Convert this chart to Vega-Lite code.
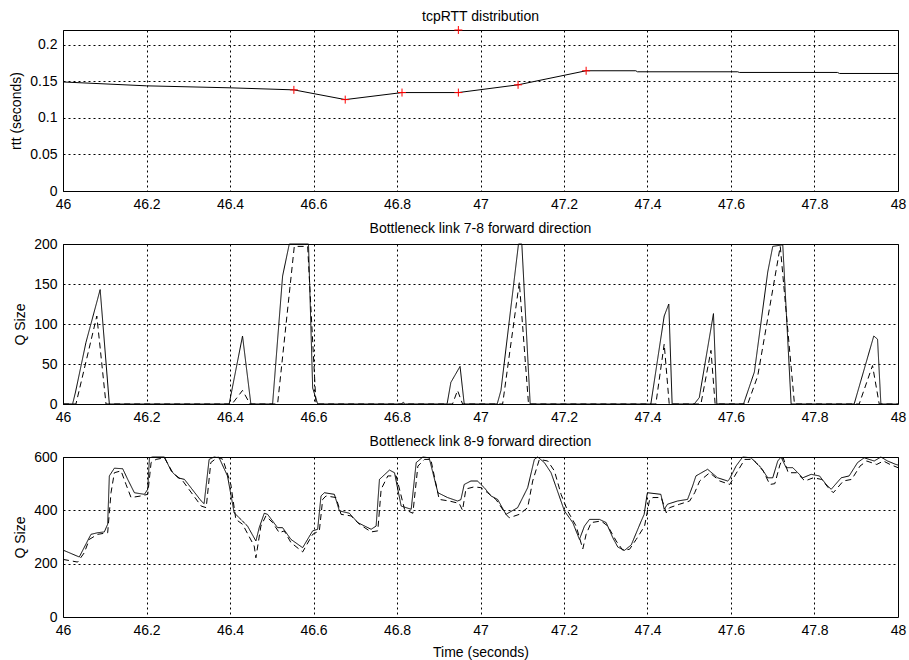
{
  "$schema": "https://vega.github.io/schema/vega-lite/v6.json",
  "padding": {"left": 9, "top": 9, "right": 5, "bottom": 3},
  "background": "white",
  "bounds": "flush",
  "datasets": {
    "rtt_line": [
      {"t": 46.0, "rtt": 0.149}, {"t": 46.2, "rtt": 0.1437}, {"t": 46.4, "rtt": 0.141}, {"t": 46.553, "rtt": 0.1382},
      {"t": 46.676, "rtt": 0.1249}, {"t": 46.812, "rtt": 0.1345}, {"t": 46.947, "rtt": 0.1345}, {"t": 47.09, "rtt": 0.1451},
      {"t": 47.253, "rtt": 0.1643}, {"t": 47.372, "rtt": 0.1643}, {"t": 47.376, "rtt": 0.1629}, {"t": 47.616, "rtt": 0.1629},
      {"t": 47.62, "rtt": 0.162}, {"t": 47.855, "rtt": 0.162}, {"t": 47.86, "rtt": 0.1606}, {"t": 48.0, "rtt": 0.1606}
    ],
    "rtt_marks": [
      {"t": 46.553, "rtt": 0.1382}, {"t": 46.676, "rtt": 0.1249}, {"t": 46.812, "rtt": 0.1345}, {"t": 46.947, "rtt": 0.1345},
      {"t": 46.947, "rtt": 0.22}, {"t": 47.09, "rtt": 0.1451}, {"t": 47.253, "rtt": 0.1643}
    ],
    "q78": [
      {"s": "solid", "t": 46.0, "q": 0}, {"s": "solid", "t": 46.023, "q": 0}, {"s": "solid", "t": 46.03, "q": 15}, {"s": "solid", "t": 46.055, "q": 77},
      {"s": "solid", "t": 46.089, "q": 143}, {"s": "solid", "t": 46.111, "q": 0}, {"s": "solid", "t": 46.398, "q": 0}, {"s": "solid", "t": 46.43, "q": 85},
      {"s": "solid", "t": 46.45, "q": 0}, {"s": "solid", "t": 46.502, "q": 0}, {"s": "solid", "t": 46.526, "q": 160}, {"s": "solid", "t": 46.542, "q": 200},
      {"s": "solid", "t": 46.588, "q": 200}, {"s": "solid", "t": 46.598, "q": 20}, {"s": "solid", "t": 46.61, "q": 0}, {"s": "solid", "t": 46.81, "q": 0},
      {"s": "solid", "t": 46.815, "q": 2}, {"s": "solid", "t": 46.82, "q": 0}, {"s": "solid", "t": 46.92, "q": 0}, {"s": "solid", "t": 46.929, "q": 27},
      {"s": "solid", "t": 46.951, "q": 47}, {"s": "solid", "t": 46.961, "q": 0}, {"s": "solid", "t": 47.04, "q": 0}, {"s": "solid", "t": 47.049, "q": 17},
      {"s": "solid", "t": 47.091, "q": 200}, {"s": "solid", "t": 47.099, "q": 200}, {"s": "solid", "t": 47.119, "q": 0}, {"s": "solid", "t": 47.408, "q": 0},
      {"s": "solid", "t": 47.44, "q": 110}, {"s": "solid", "t": 47.451, "q": 125}, {"s": "solid", "t": 47.459, "q": 0}, {"s": "solid", "t": 47.512, "q": 0},
      {"s": "solid", "t": 47.524, "q": 8}, {"s": "solid", "t": 47.558, "q": 113}, {"s": "solid", "t": 47.566, "q": 0}, {"s": "solid", "t": 47.63, "q": 0},
      {"s": "solid", "t": 47.656, "q": 40}, {"s": "solid", "t": 47.688, "q": 165}, {"s": "solid", "t": 47.7, "q": 197}, {"s": "solid", "t": 47.724, "q": 199},
      {"s": "solid", "t": 47.744, "q": 0}, {"s": "solid", "t": 47.895, "q": 0}, {"s": "solid", "t": 47.942, "q": 85}, {"s": "solid", "t": 47.951, "q": 81},
      {"s": "solid", "t": 47.959, "q": 0}, {"s": "solid", "t": 48.0, "q": 0},
      {"s": "dashed", "t": 46.0, "q": 0}, {"s": "dashed", "t": 46.031, "q": 0}, {"s": "dashed", "t": 46.081, "q": 110}, {"s": "dashed", "t": 46.103, "q": 0},
      {"s": "dashed", "t": 46.405, "q": 0}, {"s": "dashed", "t": 46.43, "q": 17}, {"s": "dashed", "t": 46.448, "q": 0}, {"s": "dashed", "t": 46.514, "q": 0},
      {"s": "dashed", "t": 46.554, "q": 197}, {"s": "dashed", "t": 46.586, "q": 197}, {"s": "dashed", "t": 46.606, "q": 0}, {"s": "dashed", "t": 46.933, "q": 0},
      {"s": "dashed", "t": 46.945, "q": 17}, {"s": "dashed", "t": 46.957, "q": 0}, {"s": "dashed", "t": 47.053, "q": 0}, {"s": "dashed", "t": 47.093, "q": 152},
      {"s": "dashed", "t": 47.115, "q": 0}, {"s": "dashed", "t": 47.42, "q": 0}, {"s": "dashed", "t": 47.44, "q": 75}, {"s": "dashed", "t": 47.452, "q": 0},
      {"s": "dashed", "t": 47.528, "q": 0}, {"s": "dashed", "t": 47.552, "q": 67}, {"s": "dashed", "t": 47.562, "q": 0}, {"s": "dashed", "t": 47.64, "q": 0},
      {"s": "dashed", "t": 47.664, "q": 35}, {"s": "dashed", "t": 47.718, "q": 197}, {"s": "dashed", "t": 47.752, "q": 0}, {"s": "dashed", "t": 47.907, "q": 0},
      {"s": "dashed", "t": 47.939, "q": 48}, {"s": "dashed", "t": 47.955, "q": 0}, {"s": "dashed", "t": 48.0, "q": 0}
    ],
    "q89": [
      {"s": "solid", "t": 46.0, "q": 251}, {"s": "solid", "t": 46.039, "q": 225}, {"s": "solid", "t": 46.067, "q": 310}, {"s": "solid", "t": 46.083, "q": 316},
      {"s": "solid", "t": 46.099, "q": 319}, {"s": "solid", "t": 46.107, "q": 348}, {"s": "solid", "t": 46.111, "q": 529}, {"s": "solid", "t": 46.123, "q": 558},
      {"s": "solid", "t": 46.143, "q": 556}, {"s": "solid", "t": 46.155, "q": 516}, {"s": "solid", "t": 46.171, "q": 466}, {"s": "solid", "t": 46.195, "q": 460},
      {"s": "solid", "t": 46.203, "q": 479}, {"s": "solid", "t": 46.207, "q": 597}, {"s": "solid", "t": 46.215, "q": 600}, {"s": "solid", "t": 46.243, "q": 600},
      {"s": "solid", "t": 46.259, "q": 548}, {"s": "solid", "t": 46.275, "q": 522}, {"s": "solid", "t": 46.291, "q": 516}, {"s": "solid", "t": 46.331, "q": 435},
      {"s": "solid", "t": 46.338, "q": 425}, {"s": "solid", "t": 46.35, "q": 591}, {"s": "solid", "t": 46.362, "q": 600}, {"s": "solid", "t": 46.374, "q": 597},
      {"s": "solid", "t": 46.394, "q": 529}, {"s": "solid", "t": 46.41, "q": 391}, {"s": "solid", "t": 46.422, "q": 372}, {"s": "solid", "t": 46.442, "q": 341},
      {"s": "solid", "t": 46.462, "q": 285}, {"s": "solid", "t": 46.47, "q": 335}, {"s": "solid", "t": 46.482, "q": 389}, {"s": "solid", "t": 46.49, "q": 385},
      {"s": "solid", "t": 46.514, "q": 335}, {"s": "solid", "t": 46.526, "q": 335}, {"s": "solid", "t": 46.546, "q": 291}, {"s": "solid", "t": 46.574, "q": 260},
      {"s": "solid", "t": 46.598, "q": 323}, {"s": "solid", "t": 46.61, "q": 329}, {"s": "solid", "t": 46.618, "q": 454}, {"s": "solid", "t": 46.626, "q": 466},
      {"s": "solid", "t": 46.65, "q": 460}, {"s": "solid", "t": 46.662, "q": 398}, {"s": "solid", "t": 46.686, "q": 389}, {"s": "solid", "t": 46.706, "q": 354},
      {"s": "solid", "t": 46.738, "q": 329}, {"s": "solid", "t": 46.75, "q": 341}, {"s": "solid", "t": 46.758, "q": 516}, {"s": "solid", "t": 46.782, "q": 551},
      {"s": "solid", "t": 46.794, "q": 541}, {"s": "solid", "t": 46.81, "q": 416}, {"s": "solid", "t": 46.834, "q": 404}, {"s": "solid", "t": 46.846, "q": 579},
      {"s": "solid", "t": 46.862, "q": 600}, {"s": "solid", "t": 46.877, "q": 597}, {"s": "solid", "t": 46.898, "q": 466}, {"s": "solid", "t": 46.921, "q": 448},
      {"s": "solid", "t": 46.945, "q": 435}, {"s": "solid", "t": 46.953, "q": 440}, {"s": "solid", "t": 46.961, "q": 497}, {"s": "solid", "t": 46.977, "q": 510},
      {"s": "solid", "t": 46.993, "q": 510}, {"s": "solid", "t": 47.001, "q": 497}, {"s": "solid", "t": 47.009, "q": 485}, {"s": "solid", "t": 47.025, "q": 454},
      {"s": "solid", "t": 47.041, "q": 441}, {"s": "solid", "t": 47.061, "q": 385}, {"s": "solid", "t": 47.089, "q": 410}, {"s": "solid", "t": 47.113, "q": 485},
      {"s": "solid", "t": 47.129, "q": 591}, {"s": "solid", "t": 47.137, "q": 600}, {"s": "solid", "t": 47.153, "q": 579}, {"s": "solid", "t": 47.169, "q": 541},
      {"s": "solid", "t": 47.201, "q": 398}, {"s": "solid", "t": 47.221, "q": 354}, {"s": "solid", "t": 47.237, "q": 291}, {"s": "solid", "t": 47.249, "q": 341},
      {"s": "solid", "t": 47.261, "q": 366}, {"s": "solid", "t": 47.285, "q": 366}, {"s": "solid", "t": 47.301, "q": 354}, {"s": "solid", "t": 47.317, "q": 297},
      {"s": "solid", "t": 47.329, "q": 262}, {"s": "solid", "t": 47.345, "q": 250}, {"s": "solid", "t": 47.361, "q": 270}, {"s": "solid", "t": 47.385, "q": 360},
      {"s": "solid", "t": 47.392, "q": 385}, {"s": "solid", "t": 47.399, "q": 460}, {"s": "solid", "t": 47.4, "q": 466}, {"s": "solid", "t": 47.432, "q": 460},
      {"s": "solid", "t": 47.44, "q": 404}, {"s": "solid", "t": 47.448, "q": 423}, {"s": "solid", "t": 47.472, "q": 435}, {"s": "solid", "t": 47.496, "q": 441},
      {"s": "solid", "t": 47.508, "q": 491}, {"s": "solid", "t": 47.516, "q": 529}, {"s": "solid", "t": 47.544, "q": 554}, {"s": "solid", "t": 47.568, "q": 522},
      {"s": "solid", "t": 47.592, "q": 510}, {"s": "solid", "t": 47.596, "q": 516}, {"s": "solid", "t": 47.612, "q": 566}, {"s": "solid", "t": 47.628, "q": 600},
      {"s": "solid", "t": 47.648, "q": 597}, {"s": "solid", "t": 47.672, "q": 560}, {"s": "solid", "t": 47.688, "q": 522}, {"s": "solid", "t": 47.7, "q": 522},
      {"s": "solid", "t": 47.712, "q": 585}, {"s": "solid", "t": 47.72, "q": 600}, {"s": "solid", "t": 47.732, "q": 560}, {"s": "solid", "t": 47.748, "q": 560},
      {"s": "solid", "t": 47.76, "q": 541}, {"s": "solid", "t": 47.772, "q": 522}, {"s": "solid", "t": 47.792, "q": 535}, {"s": "solid", "t": 47.812, "q": 529},
      {"s": "solid", "t": 47.828, "q": 497}, {"s": "solid", "t": 47.84, "q": 479}, {"s": "solid", "t": 47.864, "q": 522}, {"s": "solid", "t": 47.883, "q": 529},
      {"s": "solid", "t": 47.903, "q": 579}, {"s": "solid", "t": 47.919, "q": 597}, {"s": "solid", "t": 47.943, "q": 585}, {"s": "solid", "t": 47.959, "q": 600},
      {"s": "solid", "t": 47.975, "q": 585}, {"s": "solid", "t": 47.995, "q": 572}, {"s": "solid", "t": 48.0, "q": 570},
      {"s": "dashed", "t": 46.0, "q": 216}, {"s": "dashed", "t": 46.035, "q": 206}, {"s": "dashed", "t": 46.051, "q": 241}, {"s": "dashed", "t": 46.063, "q": 291},
      {"s": "dashed", "t": 46.083, "q": 310}, {"s": "dashed", "t": 46.107, "q": 316}, {"s": "dashed", "t": 46.115, "q": 466}, {"s": "dashed", "t": 46.123, "q": 541},
      {"s": "dashed", "t": 46.139, "q": 548}, {"s": "dashed", "t": 46.151, "q": 497}, {"s": "dashed", "t": 46.163, "q": 448}, {"s": "dashed", "t": 46.187, "q": 454},
      {"s": "dashed", "t": 46.203, "q": 460}, {"s": "dashed", "t": 46.211, "q": 579}, {"s": "dashed", "t": 46.223, "q": 591}, {"s": "dashed", "t": 46.243, "q": 597},
      {"s": "dashed", "t": 46.263, "q": 541}, {"s": "dashed", "t": 46.287, "q": 510}, {"s": "dashed", "t": 46.331, "q": 416}, {"s": "dashed", "t": 46.343, "q": 410},
      {"s": "dashed", "t": 46.354, "q": 579}, {"s": "dashed", "t": 46.371, "q": 600}, {"s": "dashed", "t": 46.383, "q": 591}, {"s": "dashed", "t": 46.402, "q": 497},
      {"s": "dashed", "t": 46.414, "q": 366}, {"s": "dashed", "t": 46.43, "q": 348}, {"s": "dashed", "t": 46.458, "q": 266}, {"s": "dashed", "t": 46.462, "q": 222},
      {"s": "dashed", "t": 46.474, "q": 341}, {"s": "dashed", "t": 46.486, "q": 379}, {"s": "dashed", "t": 46.502, "q": 354}, {"s": "dashed", "t": 46.518, "q": 316},
      {"s": "dashed", "t": 46.53, "q": 323}, {"s": "dashed", "t": 46.546, "q": 279}, {"s": "dashed", "t": 46.574, "q": 244}, {"s": "dashed", "t": 46.598, "q": 310},
      {"s": "dashed", "t": 46.614, "q": 323}, {"s": "dashed", "t": 46.622, "q": 441}, {"s": "dashed", "t": 46.63, "q": 454}, {"s": "dashed", "t": 46.654, "q": 448},
      {"s": "dashed", "t": 46.666, "q": 385}, {"s": "dashed", "t": 46.69, "q": 379}, {"s": "dashed", "t": 46.71, "q": 348}, {"s": "dashed", "t": 46.738, "q": 319},
      {"s": "dashed", "t": 46.754, "q": 323}, {"s": "dashed", "t": 46.762, "q": 479}, {"s": "dashed", "t": 46.778, "q": 529}, {"s": "dashed", "t": 46.798, "q": 529},
      {"s": "dashed", "t": 46.818, "q": 404}, {"s": "dashed", "t": 46.838, "q": 389}, {"s": "dashed", "t": 46.85, "q": 566}, {"s": "dashed", "t": 46.866, "q": 591},
      {"s": "dashed", "t": 46.881, "q": 591}, {"s": "dashed", "t": 46.901, "q": 441}, {"s": "dashed", "t": 46.925, "q": 435}, {"s": "dashed", "t": 46.949, "q": 426},
      {"s": "dashed", "t": 46.957, "q": 400}, {"s": "dashed", "t": 46.965, "q": 480}, {"s": "dashed", "t": 46.985, "q": 488}, {"s": "dashed", "t": 47.001, "q": 485},
      {"s": "dashed", "t": 47.017, "q": 466}, {"s": "dashed", "t": 47.037, "q": 441}, {"s": "dashed", "t": 47.061, "q": 385}, {"s": "dashed", "t": 47.069, "q": 372},
      {"s": "dashed", "t": 47.093, "q": 385}, {"s": "dashed", "t": 47.113, "q": 410}, {"s": "dashed", "t": 47.125, "q": 510}, {"s": "dashed", "t": 47.141, "q": 591},
      {"s": "dashed", "t": 47.161, "q": 585}, {"s": "dashed", "t": 47.177, "q": 548}, {"s": "dashed", "t": 47.193, "q": 460}, {"s": "dashed", "t": 47.209, "q": 397},
      {"s": "dashed", "t": 47.229, "q": 341}, {"s": "dashed", "t": 47.245, "q": 255}, {"s": "dashed", "t": 47.253, "q": 310}, {"s": "dashed", "t": 47.265, "q": 354},
      {"s": "dashed", "t": 47.289, "q": 360}, {"s": "dashed", "t": 47.305, "q": 341}, {"s": "dashed", "t": 47.325, "q": 285}, {"s": "dashed", "t": 47.341, "q": 250},
      {"s": "dashed", "t": 47.357, "q": 254}, {"s": "dashed", "t": 47.373, "q": 291}, {"s": "dashed", "t": 47.393, "q": 341}, {"s": "dashed", "t": 47.405, "q": 440},
      {"s": "dashed", "t": 47.413, "q": 448}, {"s": "dashed", "t": 47.433, "q": 448}, {"s": "dashed", "t": 47.445, "q": 391}, {"s": "dashed", "t": 47.453, "q": 410},
      {"s": "dashed", "t": 47.477, "q": 423}, {"s": "dashed", "t": 47.501, "q": 435}, {"s": "dashed", "t": 47.513, "q": 466}, {"s": "dashed", "t": 47.525, "q": 510},
      {"s": "dashed", "t": 47.549, "q": 541}, {"s": "dashed", "t": 47.573, "q": 510}, {"s": "dashed", "t": 47.597, "q": 497}, {"s": "dashed", "t": 47.613, "q": 540},
      {"s": "dashed", "t": 47.633, "q": 591}, {"s": "dashed", "t": 47.653, "q": 591}, {"s": "dashed", "t": 47.677, "q": 548}, {"s": "dashed", "t": 47.693, "q": 497},
      {"s": "dashed", "t": 47.705, "q": 500}, {"s": "dashed", "t": 47.717, "q": 570}, {"s": "dashed", "t": 47.725, "q": 597}, {"s": "dashed", "t": 47.737, "q": 541},
      {"s": "dashed", "t": 47.757, "q": 541}, {"s": "dashed", "t": 47.777, "q": 510}, {"s": "dashed", "t": 47.797, "q": 522}, {"s": "dashed", "t": 47.817, "q": 516},
      {"s": "dashed", "t": 47.833, "q": 485}, {"s": "dashed", "t": 47.845, "q": 466}, {"s": "dashed", "t": 47.869, "q": 510}, {"s": "dashed", "t": 47.889, "q": 516},
      {"s": "dashed", "t": 47.909, "q": 566}, {"s": "dashed", "t": 47.925, "q": 585}, {"s": "dashed", "t": 47.949, "q": 572}, {"s": "dashed", "t": 47.965, "q": 585},
      {"s": "dashed", "t": 47.981, "q": 572}, {"s": "dashed", "t": 48.0, "q": 560}
    ]
  },
  "vconcat": [
    {
      "width": 835, "height": 161,
      "title": {"text": "tcpRTT distribution", "offset": 0},
      "layer": [
        {
          "data": {"name": "rtt_line"},
          "mark": {"type": "line", "color": "black", "strokeWidth": 1},
          "encoding": {
            "x": {"field": "t", "type": "quantitative", "scale": {"domain": [46, 48], "nice": false, "zero": false},
                  "axis": {"title": null, "values": [46, 46.2, 46.4, 46.6, 46.8, 47, 47.2, 47.4, 47.6, 47.8, 48], "format": "~g"}},
            "y": {"field": "rtt", "type": "quantitative", "scale": {"domain": [0, 0.22], "nice": false},
                  "axis": {"title": "rtt (seconds)", "values": [0, 0.05, 0.1, 0.15, 0.2], "format": "~g"}}
          }
        },
        {
          "data": {"name": "rtt_marks"},
          "mark": {"type": "point", "shape": "M-1,0L1,0M0,-1L0,1", "size": 64, "filled": false, "stroke": "red", "strokeWidth": 1, "opacity": 1},
          "encoding": {
            "x": {"field": "t", "type": "quantitative"},
            "y": {"field": "rtt", "type": "quantitative"}
          }
        }
      ]
    },
    {
      "width": 835, "height": 160,
      "title": {"text": "Bottleneck link 7-8 forward direction", "offset": 1},
      "data": {"name": "q78"},
      "mark": {"type": "line", "color": "black", "strokeWidth": 1},
      "encoding": {
        "x": {"field": "t", "type": "quantitative", "scale": {"domain": [46, 48], "nice": false, "zero": false},
              "axis": {"title": null, "values": [46, 46.2, 46.4, 46.6, 46.8, 47, 47.2, 47.4, 47.6, 47.8, 48], "format": "~g"}},
        "y": {"field": "q", "type": "quantitative", "scale": {"domain": [0, 200], "nice": false},
              "axis": {"title": "Q Size", "values": [0, 50, 100, 150, 200]}},
        "detail": {"field": "s"},
        "strokeDash": {"field": "s", "type": "nominal", "scale": {"domain": ["solid", "dashed"], "range": [[1, 0], [6, 4]]}, "legend": null}
      }
    },
    {
      "width": 835, "height": 160,
      "title": {"text": "Bottleneck link 8-9 forward direction", "offset": 1},
      "data": {"name": "q89"},
      "mark": {"type": "line", "color": "black", "strokeWidth": 1},
      "encoding": {
        "x": {"field": "t", "type": "quantitative", "scale": {"domain": [46, 48], "nice": false, "zero": false},
              "axis": {"title": "Time (seconds)", "values": [46, 46.2, 46.4, 46.6, 46.8, 47, 47.2, 47.4, 47.6, 47.8, 48], "format": "~g"}},
        "y": {"field": "q", "type": "quantitative", "scale": {"domain": [0, 600], "nice": false},
              "axis": {"title": "Q Size", "values": [0, 200, 400, 600]}},
        "detail": {"field": "s"},
        "strokeDash": {"field": "s", "type": "nominal", "scale": {"domain": ["solid", "dashed"], "range": [[1, 0], [6, 4]]}, "legend": null}
      }
    }
  ],
  "spacing": 53,
  "resolve": {"scale": {"strokeDash": "independent"}},
  "config": {
    "font": "Liberation Sans",
    "view": {"stroke": "black", "strokeWidth": 1},
    "axis": {
      "grid": true, "gridColor": "black", "gridDash": [2, 3], "gridOpacity": 1, "gridWidth": 1,
      "domain": false, "ticks": false,
      "labelFont": "Liberation Sans", "labelFontSize": 14, "labelColor": "black", "labelPadding": 6,
      "labelFlush": false, "labelOverlap": false,
      "titleFont": "Liberation Sans", "titleFontSize": 14, "titleFontWeight": "normal", "titleColor": "black", "titlePadding": 6
    },
    "axisX": {"titlePadding": 8},
    "title": {"font": "Liberation Sans", "fontSize": 14, "fontWeight": "normal", "color": "black", "anchor": "middle", "baseline": "alphabetic"}
  }
}
